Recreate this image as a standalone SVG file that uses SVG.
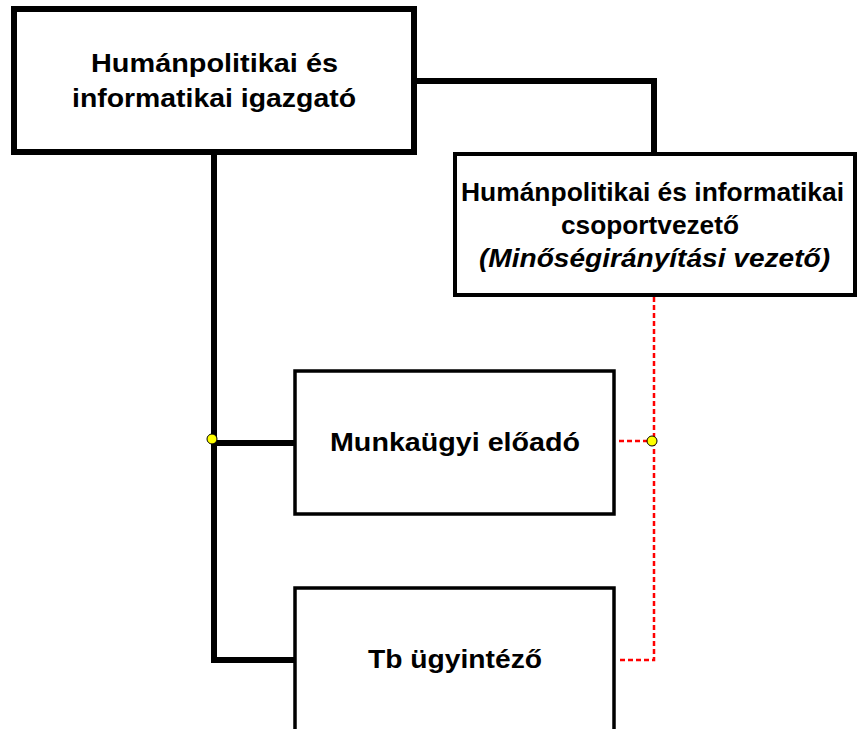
<svg xmlns="http://www.w3.org/2000/svg" width="860" height="729" viewBox="0 0 860 729">
<style>
.box{fill:#fff;stroke:#000}
.t{font-family:"Liberation Sans",Arial,sans-serif;font-weight:bold;font-size:25px;fill:#000;text-anchor:middle}
.solid{fill:none;stroke:#000;stroke-width:6}
.dash{fill:none;stroke:#f00;stroke-width:2.5;stroke-dasharray:5,3}
.dot{fill:#ff0;stroke:#000;stroke-width:1}
</style>
<rect width="860" height="729" fill="#fff"/>
<g id="connectors">
<polyline class="solid" points="214,152 214,660 295,660"/>
<line class="solid" x1="214" y1="443" x2="295" y2="443"/>
<polyline class="solid" stroke-width="5" points="414,81 654,81 654,154"/>
<polyline class="dash" points="654,297 654,660 619,660"/>
<line class="dash" x1="619" y1="441" x2="654" y2="441"/>
<circle class="dot" cx="212" cy="439" r="5"/>
<circle class="dot" cx="652" cy="441" r="5"/>
</g>
<g id="director">
<rect class="box" x="14" y="9" width="400" height="143" stroke-width="6"/>
<text class="t" x="214.5" y="72" textLength="247" lengthAdjust="spacingAndGlyphs">Humánpolitikai és</text>
<text class="t" x="214" y="107" textLength="284" lengthAdjust="spacingAndGlyphs">informatikai igazgató</text>
</g>
<g id="group-lead">
<rect class="box" x="455" y="154" width="400" height="141" stroke-width="4"/>
<text class="t" x="652.5" y="201" textLength="383" lengthAdjust="spacingAndGlyphs">Humánpolitikai és informatikai</text>
<text class="t" x="650" y="234" textLength="178" lengthAdjust="spacingAndGlyphs">csoportvezető</text>
<text class="t" x="654.5" y="267" font-style="italic" textLength="351" lengthAdjust="spacingAndGlyphs">(Minőségirányítási vezető)</text>
</g>
<g id="munkaugyi">
<rect class="box" x="295" y="371" width="319" height="143" stroke-width="3.5"/>
<text class="t" x="455" y="451" textLength="250" lengthAdjust="spacingAndGlyphs">Munkaügyi előadó</text>
</g>
<g id="tb">
<rect class="box" x="295" y="588" width="319" height="160" stroke-width="3.5"/>
<text class="t" x="455" y="668" textLength="174" lengthAdjust="spacingAndGlyphs">Tb ügyintéző</text>
</g>
</svg>
